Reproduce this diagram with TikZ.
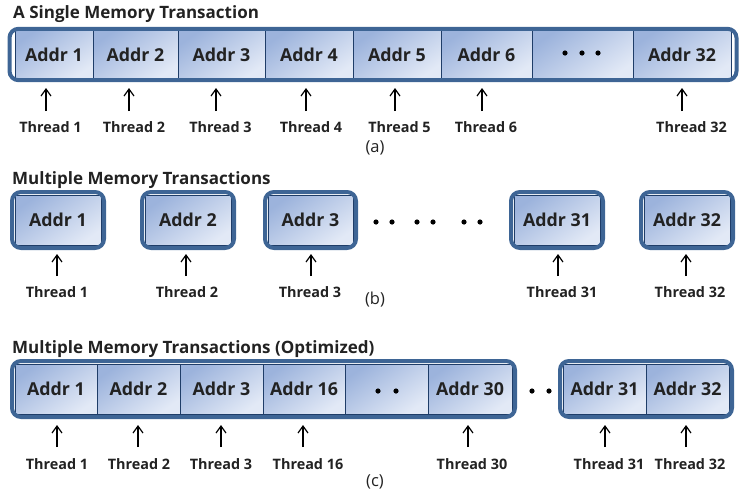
\documentclass[tikz,border=0pt]{standalone}
\usepackage{fontspec}
\setmainfont{Open Sans}
\usetikzlibrary{arrows.meta,fit}
\definecolor{outerblue}{HTML}{3E6595}
\definecolor{cellline}{HTML}{1F3D68}
\definecolor{celldark}{HTML}{9CB3DC}
\definecolor{celllight}{HTML}{E2E9F6}
\definecolor{txt}{HTML}{222222}
\tikzset{
  cell/.style={draw=cellline, line width=0.8pt, inner sep=0pt, outer sep=0pt,
    top color=celldark, bottom color=celllight, shading angle=35,
    text=txt, font=\bfseries\fontsize{17.8}{17.8}\selectfont},
  outerbox/.style={draw=outerblue, line width=4pt, rounded corners=9pt, inner sep=3pt},
  thr/.style={anchor=base, inner sep=0pt, text=txt, font=\bfseries\fontsize{14.4}{14.4}\selectfont},
  ttl/.style={anchor=base west, inner sep=0pt, text=txt, font=\bfseries\fontsize{17}{17}\selectfont},
  sub/.style={inner sep=0pt, text=txt, font=\fontsize{16.5}{16.5}\selectfont},
  arr/.style={draw=black, line width=1.2pt, -{Straight Barb[length=7pt,width=10pt,line width=1.2pt]}},
  dotc/.style={fill=black}
}
\begin{document}
\begin{tikzpicture}[x=1pt,y=-1pt]
\useasboundingbox (0,0) rectangle (740,496);
% ---------------- (a)
\node[ttl] (ta) at (13,18.5) {A Single Memory Transaction};
\node[cell, minimum width=78, minimum height=49] (a1) at (54,54.5) {Addr 1};
\node[cell, minimum width=85, minimum height=49] (a2) at (135.5,54.5) {Addr 2};
\node[cell, minimum width=87, minimum height=49] (a3) at (221.5,54.5) {Addr 3};
\node[cell, minimum width=88, minimum height=49] (a4) at (309,54.5) {Addr 4};
\node[cell, minimum width=88, minimum height=49] (a5) at (397,54.5) {Addr 5};
\node[cell, minimum width=91, minimum height=49] (a6) at (486.5,54.5) {Addr 6};
\node[cell, minimum width=101, minimum height=49] (a7) at (582.5,54.5) {};
\node[cell, minimum width=98, minimum height=49] (a8) at (682,54.5) {Addr 32};
\node[outerbox, inner xsep=5.5pt, inner ysep=1.2pt, fit=(a1)(a8)] (A) {};
\fill[dotc] (565,53) circle (2.6);
\fill[dotc] (582,53) circle (2.6);
\fill[dotc] (598,53) circle (2.6);
\node[thr] (la1) at (50.5,132) {Thread 1};
\node[thr] (la2) at (134,132) {Thread 2};
\node[thr] (la3) at (220.5,132) {Thread 3};
\node[thr] (la4) at (311,132) {Thread 4};
\node[thr] (la5) at (399.5,132) {Thread 5};
\node[thr] (la6) at (486,132) {Thread 6};
\node[thr] (la8) at (691.5,132) {Thread 32};
\foreach \l/\c/\d in {la1/a1/-4.5, la2/a2/-5, la3/a3/-4.5, la4/a4/-5, la5/a5/-4.5, la6/a6/-4, la8/a8/-9.5}
  \draw[arr, shorten <=9.7pt, shorten >=9pt] ([xshift=\d pt]\l.north) -- ([xshift=\d pt]\l.north |- \c.south);
\node[sub] (capa) at (375,148) {(a)};
% ---------------- (b)
\node[ttl] (tb) at (12,184) {Multiple Memory Transactions};
\node[cell, minimum width=86, minimum height=50] (b1) at (58,220) {Addr 1};
\node[cell, minimum width=86, minimum height=50] (b2) at (188,220) {Addr 2};
\node[cell, minimum width=85, minimum height=50] (b3) at (310.5,220) {Addr 3};
\node[cell, minimum width=86, minimum height=50] (b31) at (557,220) {Addr 31};
\node[cell, minimum width=86, minimum height=50] (b32) at (687,220) {Addr 32};
\foreach \c in {b1,b2,b3,b31,b32}
  \node[outerbox, fit=(\c)] (B\c) {};
\foreach \x in {376,392,417,433,464,480}
  \fill[dotc] (\x,222) circle (2.6);
\node[thr] (lb1) at (57,297) {Thread 1};
\node[thr] (lb2) at (187,297) {Thread 2};
\node[thr] (lb3) at (310,297) {Thread 3};
\node[thr] (lb31) at (562,297) {Thread 31};
\node[thr] (lb32) at (690,297) {Thread 32};
\foreach \l/\c/\d in {lb1/b1/0, lb2/b2/-1, lb3/b3/1, lb31/b31/-4, lb32/b32/-4}
  \draw[arr, shorten <=9.7pt, shorten >=9pt] ([xshift=\d pt]\l.north) -- ([xshift=\d pt]\l.north |- \c.south);
\node[sub] (capb) at (375,300) {(b)};
% ---------------- (c)
\node[ttl] (tc) at (12,353) {Multiple Memory Transactions (Optimized)};
\node[cell, minimum width=82, minimum height=50] (c1) at (56,389) {Addr 1};
\node[cell, minimum width=83, minimum height=50] (c2) at (138.5,389) {Addr 2};
\node[cell, minimum width=83, minimum height=50] (c3) at (221.5,389) {Addr 3};
\node[cell, minimum width=82, minimum height=50] (c16) at (304,389) {Addr 16};
\node[cell, minimum width=83, minimum height=50] (cd) at (386.5,389) {};
\node[cell, minimum width=84, minimum height=50] (c30) at (470,389) {Addr 30};
\node[outerbox, fit=(c1)(c30)] (C1) {};
\node[cell, minimum width=83, minimum height=50] (c31) at (604.5,389) {Addr 31};
\node[cell, minimum width=83, minimum height=50] (c32) at (687.5,389) {Addr 32};
\node[outerbox, fit=(c31)(c32)] (C2) {};
\fill[dotc] (378,391) circle (2.6);
\fill[dotc] (396,391) circle (2.6);
\fill[dotc] (532,391) circle (2.6);
\fill[dotc] (549,391) circle (2.6);
\node[thr] (lc1) at (57,469) {Thread 1};
\node[thr] (lc2) at (139,469) {Thread 2};
\node[thr] (lc3) at (221,469) {Thread 3};
\node[thr] (lc16) at (308,469) {Thread 16};
\node[thr] (lc30) at (472,469) {Thread 30};
\node[thr] (lc31) at (609,469) {Thread 31};
\node[thr] (lc32) at (690,469) {Thread 32};
\foreach \l/\c/\d in {lc1/c1/0, lc2/c2/-1, lc3/c3/0, lc16/c16/-5, lc30/c30/-4, lc31/c31/-4, lc32/c32/-4}
  \draw[arr, shorten <=10.7pt, shorten >=11pt] ([xshift=\d pt]\l.north) -- ([xshift=\d pt]\l.north |- \c.south);
\node[sub] (capc) at (375,482) {(c)};
\end{tikzpicture}
\end{document}
